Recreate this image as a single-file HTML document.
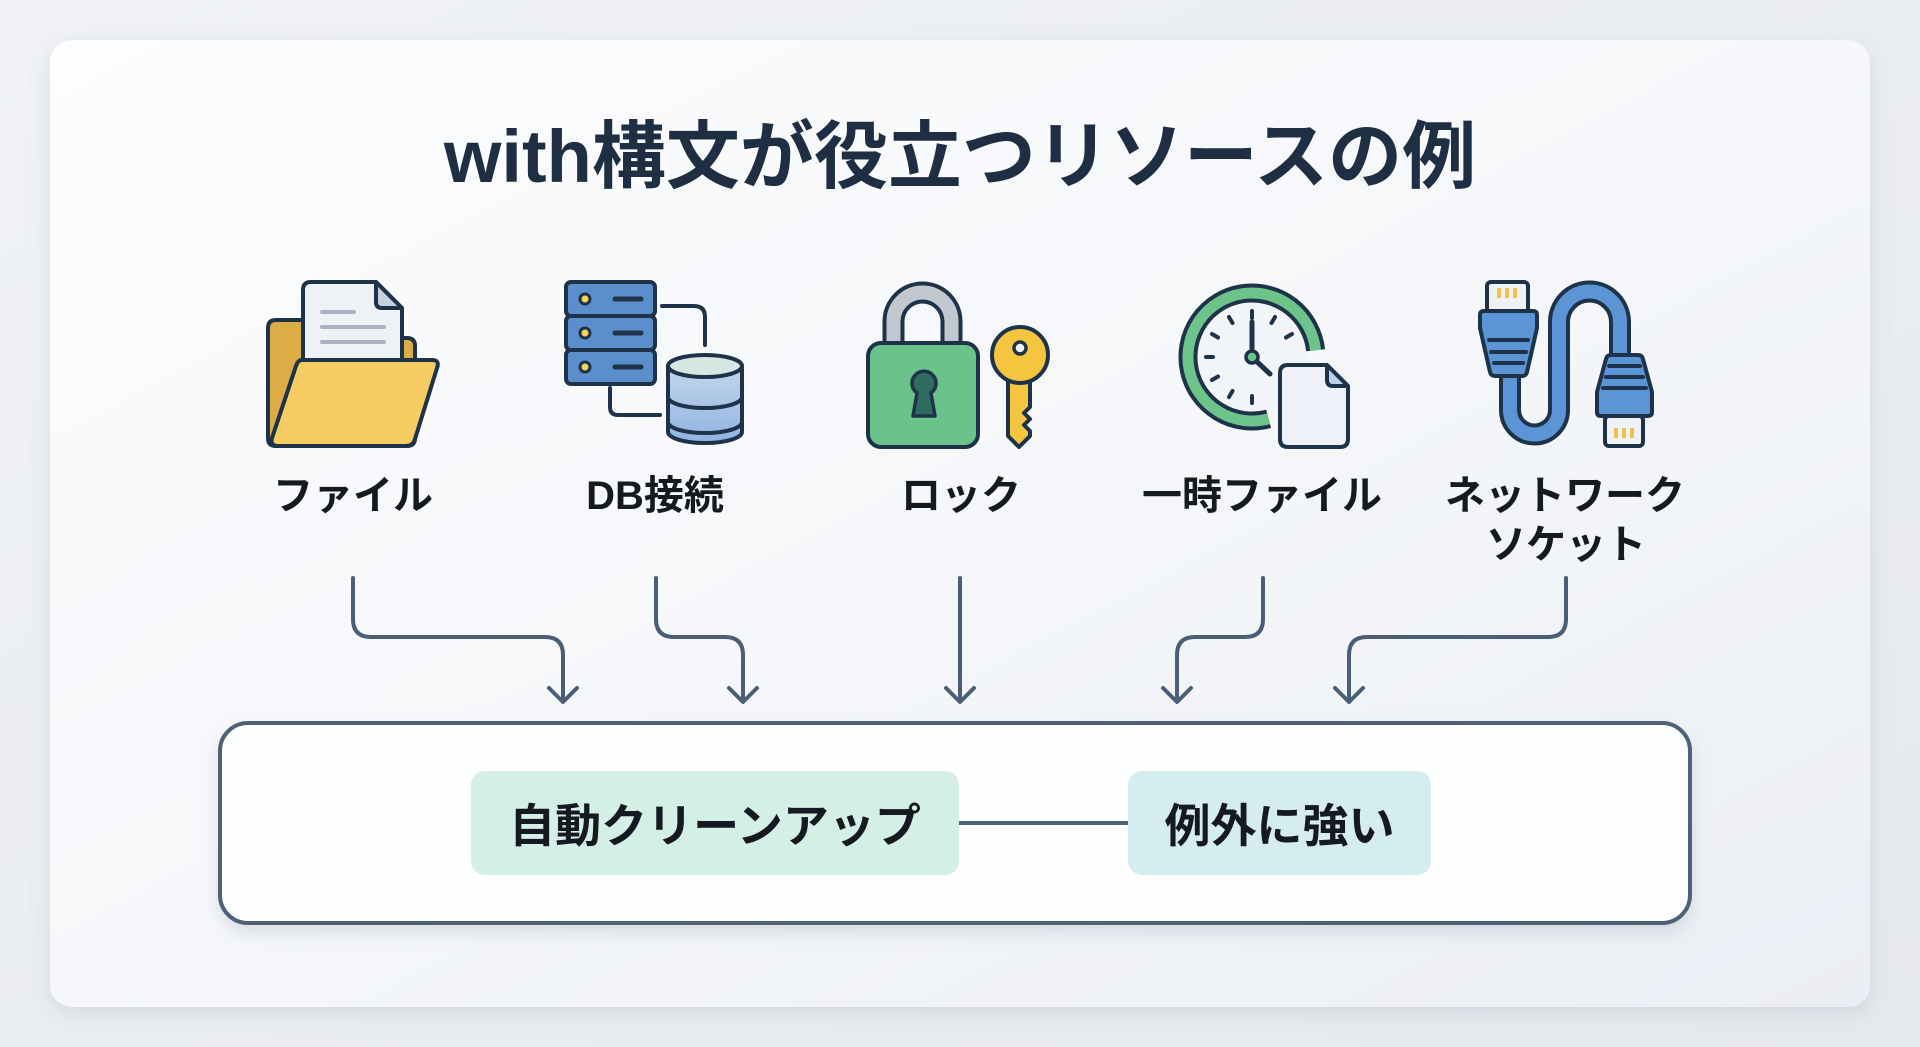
<!DOCTYPE html>
<html>
<head>
<meta charset="utf-8">
<style>
html,body{margin:0;padding:0;}
body{width:1920px;height:1047px;overflow:hidden;background:#eaedf1;}
svg{display:block;}
text{font-family:"Liberation Sans","Noto Sans CJK JP",sans-serif;font-weight:bold;}
</style>
</head>
<body>
<svg width="1920" height="1047" viewBox="0 0 1920 1047" xmlns="http://www.w3.org/2000/svg">
<defs>
  <linearGradient id="bg" x1="0" y1="0" x2="1" y2="1">
    <stop offset="0" stop-color="#f0f2f5"/>
    <stop offset="1" stop-color="#e5e8ed"/>
  </linearGradient>
  <linearGradient id="card" x1="0" y1="0" x2="1" y2="1">
    <stop offset="0" stop-color="#fdfdfe"/>
    <stop offset="0.5" stop-color="#f5f7fa"/>
    <stop offset="1" stop-color="#ebeef4"/>
  </linearGradient>
  <linearGradient id="cyl" x1="0" y1="0" x2="0" y2="1">
    <stop offset="0" stop-color="#c6d6ea"/>
    <stop offset="1" stop-color="#8fb3e2"/>
  </linearGradient>
  <filter id="sh" x="-10%" y="-10%" width="120%" height="130%">
    <feDropShadow dx="0" dy="6" stdDeviation="10" flood-color="#8a94a6" flood-opacity="0.22"/>
  </filter>
  <filter id="sh2" x="-5%" y="-20%" width="110%" height="150%">
    <feDropShadow dx="0" dy="8" stdDeviation="8" flood-color="#8a94a6" flood-opacity="0.25"/>
  </filter>
</defs>

<rect x="0" y="0" width="1920" height="1047" fill="url(#bg)"/>
<rect x="50" y="40" width="1820" height="967" rx="22" fill="url(#card)" filter="url(#sh)"/>

<!-- Title -->
<text x="960" y="182" font-size="74" text-anchor="middle" fill="#1f2f43">with構文が役立つリソースの例</text>

<!-- ===== Folder icon ===== -->
<g stroke="#1e3349" stroke-width="4" stroke-linejoin="round" stroke-linecap="round">
  <path d="M268 328 Q268 320 276 320 H310 V338 H407 Q415 338 415 346 V438 Q415 446 407 446 H276 Q268 446 268 438 Z" fill="#dcac46"/>
  <path d="M311 282 H376 L402 308 V400 H303 V290 Q303 282 311 282 Z" fill="#eef2f7"/>
  <path d="M376 282 V302 Q376 308 382 308 H402 Z" fill="#c7d1df"/>
  <path d="M302 360 H432 Q440 360 437 368 L415 439 Q413 446 406 446 H278 Q270 446 272 438 L296 366 Q298 360 302 360 Z" fill="#f7cd62"/>
</g>
<g stroke="#a9b2be" stroke-width="4" stroke-linecap="round">
  <path d="M322 312 H354"/><path d="M322 327 H384"/><path d="M322 342 H384"/>
</g>

<!-- ===== DB icon ===== -->
<g stroke="#1e3349" stroke-width="4" stroke-linejoin="round" stroke-linecap="round" fill="none">
  <path d="M662 306 H694 Q705 306 705 317 V345"/>
  <path d="M610 388 V407 Q610 415 618 415 H660"/>
</g>
<g stroke="#1e3349" stroke-width="4" stroke-linejoin="round">
  <rect x="566" y="282" width="89" height="34" rx="5" fill="#5b8fcb"/>
  <rect x="566" y="316" width="89" height="34" rx="5" fill="#5b8fcb"/>
  <rect x="566" y="350" width="89" height="34" rx="5" fill="#5b8fcb"/>
  <circle cx="585" cy="299" r="5" fill="#f2d65a" stroke-width="3"/>
  <circle cx="585" cy="333" r="5" fill="#f2d65a" stroke-width="3"/>
  <circle cx="585" cy="367" r="5" fill="#f2d65a" stroke-width="3"/>
</g>
<g stroke="#1e3349" stroke-width="5" stroke-linecap="round">
  <path d="M615 299 H641"/><path d="M615 333 H641"/><path d="M615 367 H641"/>
</g>
<g stroke="#1e3349" stroke-width="4" stroke-linejoin="round">
  <path d="M668 366 V432 A37 11 0 0 0 742 432 V366 Z" fill="url(#cyl)"/>
  <path d="M668 397 A37 11 0 0 0 742 397" fill="none"/>
  <path d="M668 422 A37 11 0 0 0 742 422" fill="none"/>
  <ellipse cx="705" cy="366" rx="37" ry="11" fill="#d6e7e4"/>
</g>

<!-- ===== Lock & key ===== -->
<path d="M893.5 348 V321.5 A29 29 0 0 1 951.5 321.5 V348" fill="none" stroke="#1e3349" stroke-width="22"/>
<path d="M893.5 348 V321.5 A29 29 0 0 1 951.5 321.5 V348" fill="none" stroke="#c3c8d0" stroke-width="14"/>
<g stroke="#1e3349" stroke-width="4" stroke-linejoin="round">
  <rect x="868" y="343" width="110" height="104" rx="13" fill="#6bc28a"/>
  <path d="M917 393 A12 12 0 1 1 931 393 L935 416 H913 Z" fill="#2f6b5f" stroke-width="3.5"/>
  <path d="M1008 378 V436 L1019 447 L1030 436 V431 L1024 425 L1030 419 L1024 413 L1030 407 V378 Z" fill="#f5c540"/>
  <circle cx="1020" cy="355" r="28" fill="#f5c540"/>
  <circle cx="1020" cy="348" r="6" fill="#f3f5f8" stroke-width="3.5"/>
</g>

<!-- ===== Clock & file ===== -->
<circle cx="1252" cy="357" r="56" fill="#f1f4f8"/>
<path d="M1315.6 350.3 A64 64 0 1 0 1268.6 418.8" fill="none" stroke="#1e3349" stroke-width="19"/>
<path d="M1315.6 350.3 A64 64 0 1 0 1268.6 418.8" fill="none" stroke="#6cc48a" stroke-width="11"/>
<g stroke="#1e3349" stroke-width="4" stroke-linecap="round">
  <path d="M1252 311 V318"/>
  <path d="M1275 317 L1271.5 323"/>
  <path d="M1292 334 L1286 337.5"/>
  <path d="M1252 403 V396"/>
  <path d="M1229 397 L1232.5 391"/>
  <path d="M1212 380 L1218 376.5"/>
  <path d="M1206 357 H1213"/>
  <path d="M1212 334 L1218 337.5"/>
  <path d="M1229 317 L1232.5 323"/>
  <path d="M1252 357 V322" stroke-width="5"/>
  <path d="M1252 357 L1270 374" stroke-width="5"/>
</g>
<circle cx="1252" cy="357" r="6" fill="#6cc48a" stroke="#1e3349" stroke-width="3.5"/>
<g stroke="#1e3349" stroke-width="4" stroke-linejoin="round">
  <path d="M1288 365 H1327 L1348 386 V439 Q1348 447 1340 447 H1288 Q1280 447 1280 439 V373 Q1280 365 1288 365 Z" fill="#eef2f8"/>
  <path d="M1327 365 V380 Q1327 386 1333 386 H1348 Z" fill="#b9d2ef"/>
</g>

<!-- ===== Network cable ===== -->
<path d="M1510 372 V410 A24.5 24.5 0 0 0 1559 410 V322 A30.5 30.5 0 0 1 1620 322 V360" fill="none" stroke="#1e3349" stroke-width="22"/>
<path d="M1510 372 V410 A24.5 24.5 0 0 0 1559 410 V322 A30.5 30.5 0 0 1 1620 322 V360" fill="none" stroke="#5b95d5" stroke-width="14"/>
<g stroke="#1e3349" stroke-width="4" stroke-linejoin="round">
  <rect x="1487" y="282" width="41" height="30" rx="4" fill="#eef2f7"/>
  <path d="M1484 311 H1533 Q1537 311 1537 315 V328 L1527 372 Q1526 376 1522 376 H1495 Q1491 376 1490 372 L1480 328 V315 Q1480 311 1484 311 Z" fill="#5b95d5"/>
  <path d="M1611 355 H1638 Q1642 355 1643 359 L1652 392 V412 Q1652 416 1648 416 H1601 Q1597 416 1597 412 V392 L1606 359 Q1607 355 1611 355 Z" fill="#5b95d5"/>
  <rect x="1605" y="416" width="38" height="30" rx="4" fill="#eef2f7"/>
</g>
<g fill="#f0c44c">
  <rect x="1497" y="288" width="4" height="10"/><rect x="1505" y="288" width="4" height="10"/><rect x="1513" y="288" width="4" height="10"/>
  <rect x="1614" y="428" width="4" height="10"/><rect x="1622" y="428" width="4" height="10"/><rect x="1630" y="428" width="4" height="10"/>
</g>
<g stroke="#1e3349" stroke-width="4" stroke-linecap="round">
  <path d="M1489 340 H1528"/><path d="M1491 352 H1526"/><path d="M1494 363 H1523"/>
  <path d="M1609 366 H1640"/><path d="M1606 377 H1643"/><path d="M1603 388 H1646"/>
</g>

<!-- Labels -->
<g font-size="40" fill="#161a1f" text-anchor="middle">
  <text x="353" y="509">ファイル</text>
  <text x="655" y="509">DB接続</text>
  <text x="961" y="509">ロック</text>
  <text x="1262" y="509">一時ファイル</text>
  <text x="1565" y="509">ネットワーク</text>
  <text x="1566" y="558">ソケット</text>
</g>

<!-- Arrows -->
<g stroke="#4b5e77" stroke-width="4" fill="none" stroke-linecap="round" stroke-linejoin="round">
  <path d="M353 578 V619 Q353 637 371 637 H545 Q563 637 563 655 V701"/>
  <path d="M549 688 L563 702 L577 688"/>
  <path d="M656 578 V619 Q656 637 674 637 H725 Q743 637 743 655 V701"/>
  <path d="M729 688 L743 702 L757 688"/>
  <path d="M960 578 V701"/>
  <path d="M946 688 L960 702 L974 688"/>
  <path d="M1263 578 V619 Q1263 637 1245 637 H1195 Q1177 637 1177 655 V701"/>
  <path d="M1163 688 L1177 702 L1191 688"/>
  <path d="M1566 578 V619 Q1566 637 1548 637 H1367 Q1349 637 1349 655 V701"/>
  <path d="M1335 688 L1349 702 L1363 688"/>
</g>

<!-- Bottom box -->
<rect x="220" y="723" width="1470" height="200" rx="28" fill="#fdfefe" stroke="#4f6179" stroke-width="4" filter="url(#sh2)"/>
<path d="M959 823 H1128" stroke="#4f6179" stroke-width="4"/>
<rect x="471" y="771" width="488" height="104" rx="14" fill="#d4efe5"/>
<rect x="1128" y="771" width="303" height="104" rx="14" fill="#d5edf0"/>
<g font-size="46" fill="#151a20" text-anchor="middle">
  <text x="715" y="842">自動クリーンアップ</text>
  <text x="1279.5" y="842">例外に強い</text>
</g>
</svg>
</body>
</html>
